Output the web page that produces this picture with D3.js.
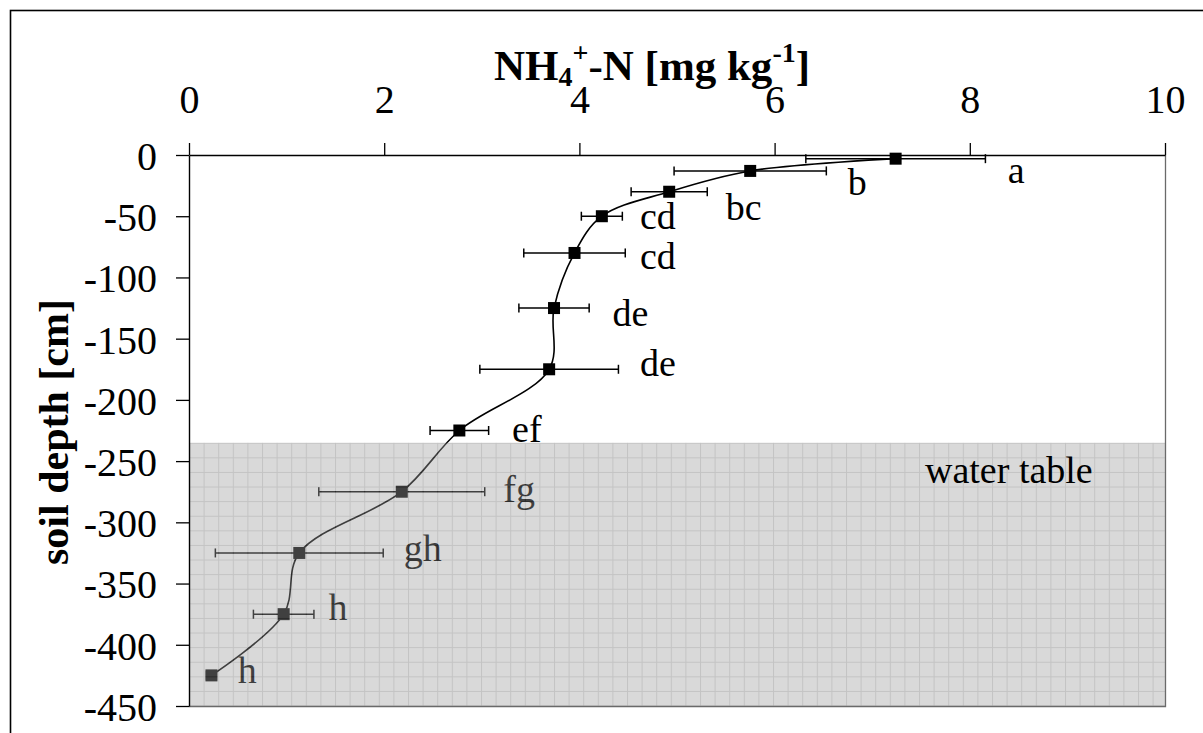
<!DOCTYPE html>
<html>
<head>
<meta charset="utf-8">
<script src="https://cdn.jsdelivr.net/npm/d3@7/dist/d3.min.js"></script>
<style>
  html, body { margin: 0; padding: 0; background: #fff; }
  svg { display: block; }
  text { font-family: "Liberation Serif", "Times New Roman", serif; }
</style>
</head>
<body>
<svg id="chart" width="1203" height="733"></svg>
<script>
// NH4+-N concentration profile down the soil column
const depths      = [-3, -13, -30, -50, -80, -125, -175, -225, -275, -325, -375, -425];
const nh4Values   = [7.24, 5.75, 4.92, 4.23, 3.95, 3.74, 3.69, 2.77, 2.18, 1.13, 0.97, 0.23];
const nh4Errors   = [0.92, 0.78, 0.39, 0.21, 0.52, 0.36, 0.71, 0.30, 0.85, 0.86, 0.31, 0.05];
const groupLetters = ["a", "b", "bc", "cd", "cd", "de", "de", "ef", "fg", "gh", "h", "h"];
// anchor of each significance letter, in data units (value, depth of baseline)
const letterX     = [8.39, 6.75, 5.50, 4.62, 4.62, 4.34, 4.62, 3.31, 3.22, 2.20, 1.43, 0.50];
const letterDepth = [-22.5, -32.3, -53.2, -60.8, -92.7, -139.8, -180.7, -234.8, -283.6, -331.8, -379.4, -431];

const xTicks = [0, 2, 4, 6, 8, 10];
const yTicks = [0, -50, -100, -150, -200, -250, -300, -350, -400, -450];
const waterTableDepth = -235;

const svg = d3.select("#chart");
const W = 1203, H = 733;

const x = d3.scaleLinear().domain([0, 10]).range([189, 1165]);
const y = d3.scaleLinear().domain([0, -450]).range([155, 706]);

const rows = depths.map((d, i) => ({
  depth: d, value: nh4Values[i], err: nh4Errors[i],
  letter: groupLetters[i], lx: letterX[i], ld: letterDepth[i]
}));

// outer frame of the figure
svg.append("rect")
  .attr("x", 10.5).attr("y", 10.5)
  .attr("width", W + 40).attr("height", H + 40)
  .attr("fill", "none").attr("stroke", "#000").attr("stroke-width", 1.6);

// grid pattern for the saturated zone
const defs = svg.append("defs");
const cell = 14.6;
const pat = defs.append("pattern")
  .attr("id", "wtGrid")
  .attr("patternUnits", "userSpaceOnUse")
  .attr("x", x(0)).attr("y", y(waterTableDepth))
  .attr("width", cell).attr("height", cell);
pat.append("rect").attr("width", cell).attr("height", cell).attr("fill", "#a0a0a0");
pat.append("path")
  .attr("d", `M0,0.5H${cell}M0.5,0V${cell}`)
  .attr("stroke", "#6a6a6a").attr("stroke-width", 1).attr("fill", "none");

const plot = svg.append("g");

// smoothed profile line
const line = d3.line()
  .x(d => x(d.value))
  .y(d => y(d.depth))
  .curve(d3.curveCatmullRom.alpha(0.5));

plot.append("path")
  .datum(rows)
  .attr("d", line)
  .attr("fill", "none")
  .attr("stroke", "#000")
  .attr("stroke-width", 1.6);

// horizontal error bars
const eb = plot.append("g").attr("stroke", "#000").attr("stroke-width", 1.5);
rows.forEach(d => {
  const yy = y(d.depth), x0 = x(d.value - d.err), x1 = x(d.value + d.err);
  eb.append("line").attr("x1", x0).attr("x2", x1).attr("y1", yy).attr("y2", yy);
  eb.append("line").attr("x1", x0).attr("x2", x0).attr("y1", yy - 4.5).attr("y2", yy + 4.5);
  eb.append("line").attr("x1", x1).attr("x2", x1).attr("y1", yy - 4.5).attr("y2", yy + 4.5);
});

// square markers
const ms = 12;
plot.selectAll("rect.marker")
  .data(rows)
  .join("rect")
  .attr("class", "marker")
  .attr("x", d => x(d.value) - ms / 2)
  .attr("y", d => y(d.depth) - ms / 2)
  .attr("width", ms).attr("height", ms)
  .attr("fill", "#000");

// significance letters
plot.selectAll("text.letter")
  .data(rows)
  .join("text")
  .attr("class", "letter")
  .attr("x", d => x(d.lx))
  .attr("y", d => y(d.ld))
  .attr("font-size", 38)
  .attr("fill", "#000")
  .text(d => d.letter);

// translucent water-table zone laid over the profile
svg.append("rect")
  .attr("x", x(0)).attr("y", y(waterTableDepth))
  .attr("width", x(10) - x(0))
  .attr("height", y(-450) - y(waterTableDepth))
  .attr("fill", "url(#wtGrid)")
  .attr("opacity", 0.4);

svg.append("text")
  .attr("x", 925).attr("y", 483)
  .attr("font-size", 38)
  .attr("fill", "#000")
  .text("water table");

// plot area border (right and bottom)
svg.append("path")
  .attr("d", `M${x(10) + 0.5},${y(0)}V${y(-450) + 0.5}H${x(0)}`)
  .attr("fill", "none").attr("stroke", "#6a6a6a").attr("stroke-width", 1.3);

// axes
const fmt = d => String(d);
const xAxis = svg.append("g")
  .attr("transform", `translate(0,${y(0)})`)
  .call(d3.axisTop(x).tickValues(xTicks).tickFormat(fmt).tickSize(12).tickSizeOuter(0).tickPadding(30));
const yAxis = svg.append("g")
  .attr("transform", `translate(${x(0)},0)`)
  .call(d3.axisLeft(y).tickValues(yTicks).tickFormat(fmt).tickSize(13).tickSizeOuter(0).tickPadding(19));

[xAxis, yAxis].forEach(g => {
  g.selectAll("text").attr("font-size", 40).attr("font-family", "Liberation Serif").attr("fill", "#000");
  g.selectAll("line").attr("stroke", "#000").attr("stroke-width", 1.3);
  g.select(".domain").attr("stroke", "#000").attr("stroke-width", 1.4);
});
yAxis.selectAll("text").attr("dy", "0.36em");

// axis titles
const title = svg.append("text")
  .attr("x", 652).attr("y", 80)
  .attr("text-anchor", "middle")
  .attr("font-size", 43)
  .attr("font-weight", "bold")
  .attr("fill", "#000");
title.append("tspan").text("NH");
title.append("tspan").attr("font-size", 28).attr("dy", 6).text("4");
title.append("tspan").attr("font-size", 28).attr("dy", -24).text("+");
title.append("tspan").attr("dy", 18).text("-N [mg kg");
title.append("tspan").attr("font-size", 28).attr("dy", -18).text("-1");
title.append("tspan").attr("dy", 18).text("]");

svg.append("text")
  .attr("transform", "translate(68,432) rotate(-90)")
  .attr("text-anchor", "middle")
  .attr("font-size", 42)
  .attr("font-weight", "bold")
  .attr("fill", "#000")
  .text("soil depth [cm]");
</script>
</body>
</html>
